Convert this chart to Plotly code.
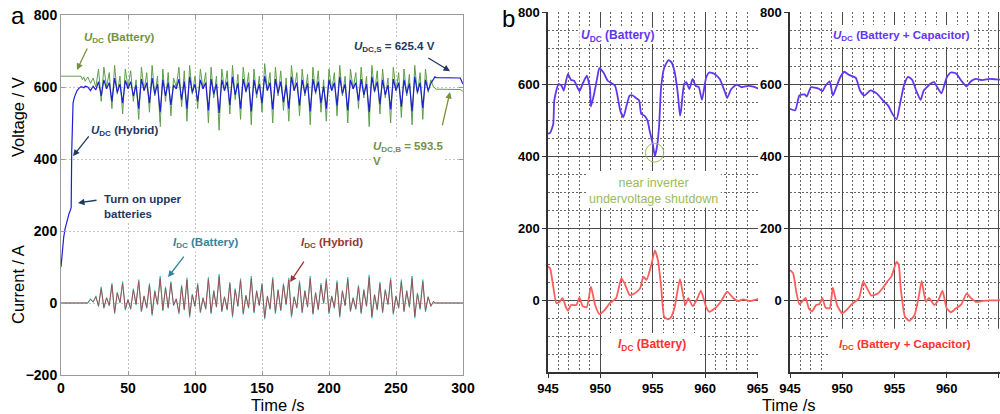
import plotly.graph_objects as go

W, H = 1000, 414

# ---------------- Panel a data ----------------
t_hyb_start = [0, 1, 2, 3, 4, 5, 6, 7, 7.6, 8.0, 8.4, 9, 10, 11, 12, 13, 14, 15, 16, 17, 18, 19]
u_hyb_start = [100, 150, 182, 205, 222, 236, 248, 258, 265, 420, 530, 556, 572, 582, 590, 595, 599, 601, 600, 598, 602, 600]
t_bat_start = [0, 15, 16, 17, 18, 19]
u_bat_start = [630, 630, 620, 628, 616, 624]
t_cur_start = [0, 19]
i_bat_start = [0, 0]
i_hyb_start = [0, 0]

# driving segment, one sample every 2 s from 20 s to 278 s
t_drive = list(range(20, 280, 2))
u_bat_drive = [
    628, 610, 625, 600, 650, 560, 655, 600, 640, 540,
    660, 580, 630, 525, 650, 600, 645, 560, 620, 510,
    655, 590, 640, 530, 660, 575, 630, 490, 650, 560,
    640, 520, 625, 600, 655, 545, 645, 505, 660, 580,
    630, 540, 650, 595, 640, 500, 655, 570, 630, 480,
    650, 590, 645, 525, 660, 565, 635, 510, 655, 585,
    640, 495, 650, 570, 630, 530, 665, 590, 640, 500,
    655, 575, 645, 535, 625, 505, 660, 590, 640, 520,
    650, 575, 635, 495, 655, 580, 645, 530, 620, 505,
    650, 590, 640, 520, 660, 575, 630, 500, 650, 595,
    640, 540, 655, 570, 630, 490, 660, 585, 645, 525,
    650, 570, 625, 500, 655, 590, 640, 515, 650, 575,
    635, 495, 660, 580, 640, 510, 650, 585, 620, 600]
u_hyb_drive = [
    600, 590, 602, 592, 615, 575, 620, 595, 612, 560,
    625, 585, 608, 555, 618, 595, 615, 575, 605, 540,
    622, 590, 612, 555, 625, 580, 608, 530, 620, 575,
    612, 550, 605, 595, 622, 565, 615, 540, 628, 585,
    608, 560, 620, 595, 612, 535, 622, 580, 608, 528,
    620, 590, 615, 550, 628, 578, 610, 540, 622, 588,
    612, 532, 620, 580, 608, 555, 630, 590, 612, 538,
    622, 582, 615, 558, 605, 540, 628, 590, 612, 548,
    620, 582, 610, 532, 622, 585, 615, 555, 602, 540,
    620, 590, 612, 548, 628, 582, 608, 535, 620, 595,
    612, 562, 622, 578, 608, 530, 628, 588, 615, 552,
    620, 578, 605, 538, 622, 590, 612, 545, 620, 582,
    610, 532, 628, 585, 612, 542, 620, 590, 610, 622]
i_bat_drive = [
    0, 12, 2, 20, -10, 45, -15, 15, -8, 55,
    -30, 30, 0, 60, -20, 10, -18, 40, -5, 65,
    -25, 20, -15, 55, -35, 35, -5, 75, -22, 45,
    -15, 60, -8, 12, -30, 50, -20, 70, -40, 25,
    -10, 55, -28, 15, -18, 72, -30, 35, -12, 80,
    -25, 18, -20, 58, -40, 40, -10, 68, -32, 22,
    -15, 75, -28, 35, -8, 55, -45, 20, -18, 72,
    -30, 38, -22, 55, -5, 70, -40, 18, -15, 62,
    -28, 35, -12, 75, -32, 30, -20, 55, -2, 68,
    -30, 20, -15, 62, -40, 35, -8, 72, -25, 15,
    -18, 50, -30, 38, -10, 78, -42, 25, -20, 58,
    -28, 38, -5, 70, -32, 20, -15, 65, -25, 35,
    -12, 75, -42, 28, -18, 65, -25, 18, -10, 5]
i_hyb_drive = [
    0, 10, 3, 17, -8, 40, -12, 14, -6, 50,
    -26, 27, 2, 54, -17, 9, -15, 36, -3, 60,
    -22, 18, -12, 50, -30, 31, -3, 68, -19, 41,
    -12, 55, -6, 11, -26, 45, -17, 64, -35, 22,
    -8, 50, -24, 13, -15, 66, -26, 32, -10, 73,
    -21, 16, -17, 53, -35, 36, -8, 62, -28, 20,
    -12, 68, -24, 32, -6, 50, -40, 18, -15, 66,
    -26, 34, -19, 50, -3, 64, -35, 16, -12, 56,
    -24, 32, -10, 68, -28, 27, -17, 50, 0, 62,
    -26, 18, -12, 56, -35, 32, -6, 66, -21, 13,
    -15, 45, -26, 34, -8, 71, -37, 22, -17, 53,
    -24, 34, -3, 64, -28, 18, -12, 59, -21, 32,
    -10, 68, -37, 25, -15, 59, -21, 16, -8, 4]

t_end = [279, 280, 298, 299.5, 300]
u_hyb_end = [628, 626, 625, 612, 608]
u_bat_end = [596, 594, 593, 589, 588]
i_bat_end = [0, 0, 0, 0, 0]
i_hyb_end = [0, 0, 0, 0, 0]

# ---------------- Panel b data ----------------
b1_u_t = [945.0, 945.2, 945.5, 945.6, 946.0, 946.3, 946.5, 946.9, 947.2, 947.5, 948.0, 948.3, 948.7,
          949.0, 949.1, 949.4, 949.7, 949.9, 950.3, 950.7, 951.4, 951.9, 952.2, 952.5, 952.8, 953.1,
          953.4, 953.7, 953.9, 954.2, 954.5, 954.7, 955.0, 955.2, 955.4, 955.6, 955.8, 956.1, 956.5,
          956.8, 957.1, 957.4, 957.6, 957.7, 958.0, 958.2, 958.5, 958.8, 959.1, 959.4, 959.7, 960.1,
          960.4, 960.9, 961.4, 961.9, 962.1, 962.5, 963.0, 963.5, 964.1, 964.6, 965.2]
b1_u = [462, 464, 489, 554, 600, 595, 582, 628, 611, 609, 580, 600, 623,
        591, 537, 572, 617, 644, 632, 609, 595, 526, 508, 540, 568, 568,
        561, 554, 517, 512, 499, 471, 434, 400, 425, 480, 591, 646, 666,
        660, 632, 572, 512, 526, 600, 605, 586, 614, 595, 591, 556, 618,
        632, 628, 614, 577, 561, 586, 598, 591, 595, 593, 586]
b1_i_t = [945.0, 945.2, 945.5, 945.8, 946.1, 946.4, 946.7, 946.9, 947.2, 947.7, 948.0, 948.3, 948.7,
          949.1, 949.5, 949.9, 950.4, 950.9, 951.5, 952.0, 952.3, 952.8, 953.3, 953.8, 954.1, 954.4,
          954.9, 955.2, 955.5, 955.8, 956.1, 956.5, 956.8, 957.1, 957.6, 958.1, 958.4, 958.8, 959.2,
          959.6, 960.1, 960.4, 961.1, 961.6, 962.1, 962.7, 963.2, 963.6, 964.3, 965.2]
b1_i = [93, 88, 37, -9, -5, 5, -19, -30, -14, -14, 7, -17, -20,
        37, -14, -39, -28, -9, 5, 60, 47, 14, 19, 33, 65, 56,
        102, 138, 110, 37, -47, -54, -45, -19, 58, -14, 5, -17, 0,
        26, -20, -33, -19, 0, 23, 5, -3, 2, -3, 4]
b2_u_t = [945.0, 945.5, 945.9, 946.4, 946.6, 947.0, 947.5, 947.8, 948.1, 948.4, 948.8, 949.1,
          949.4, 949.8, 950.2, 950.6, 951.3, 951.7, 952.1, 952.7, 953.3, 953.9, 954.4, 954.8,
          955.2, 955.5, 955.9, 956.3, 956.7, 957.1, 957.5, 957.8, 958.1, 958.4, 958.8, 959.1,
          959.5, 960.0, 960.4, 960.9, 961.4, 961.9, 962.3, 962.8, 963.4, 964.1, 964.7, 965.2]
b2_u = [531, 527, 568, 571, 565, 591, 589, 586, 580, 595, 607, 568,
        589, 618, 634, 626, 617, 582, 568, 582, 574, 554, 540, 517,
        502, 540, 595, 620, 611, 580, 556, 582, 591, 600, 605, 591,
        574, 618, 632, 629, 609, 593, 607, 614, 611, 614, 613, 612]
b2_i_t = [945.0, 945.3, 945.6, 945.9, 946.3, 946.5, 946.8, 947.1, 947.5, 947.8, 948.1, 948.4, 948.8,
          949.1, 949.5, 950.0, 950.5, 950.9, 951.6, 952.0, 952.3, 952.8, 953.4, 953.9, 954.3, 954.7,
          955.2, 955.4, 955.6, 956.0, 956.4, 956.9, 957.3, 957.6, 958.0, 958.3, 958.8, 959.2, 959.6,
          960.0, 960.4, 960.9, 961.4, 961.9, 962.3, 962.8, 963.4, 964.1, 964.7, 965.2]
b2_i = [83, 74, 23, -12, 0, 6, -23, -32, -14, -12, 5, -21, -23,
        34, -14, -37, -25, -12, 5, 51, 37, 12, 18, 34, 51, 65,
        106, 99, 32, -46, -58, -43, 5, 53, -5, 6, -14, 0, 25,
        -23, -34, -23, -12, 18, 6, -5, -3, -1, -1, 0]

a_xticks = [0, 50, 100, 150, 200, 250, 300]
a_yticks = [-200, 0, 200, 400, 600, 800]
b_xticks = [945, 950, 955, 960, 965]
b_yticks = [0, 200, 400, 600, 800]

# ---------------- styling ----------------
GREEN = "#5e9e4a"
BLUE = "#1e1ed2"
CYAN = "#35c4c4"
DRED = "#b23a3a"
T_OLIVE = "#76923c"
T_NAVY = "#1f3864"
T_TEAL = "#31859c"
T_DRED = "#953735"
B_BLUE = "#6236ee"
B_RED = "#ff5c5c"
B_RED_T = "#ff3030"
B_OLIVE = "#9bbb59"
FONT = "Liberation Sans, Arial, sans-serif"


def fx(P):
    return P / W


def fy(P):
    return 1 - P / H


fig = go.Figure()

fig.add_trace(go.Scatter(x=t_bat_start + t_drive + t_end, y=u_bat_start + u_bat_drive + u_bat_end,
                         mode="lines", line=dict(color=GREEN, width=1), xaxis="x", yaxis="y"))
fig.add_trace(go.Scatter(x=t_hyb_start + t_drive + t_end, y=u_hyb_start + u_hyb_drive + u_hyb_end,
                         mode="lines", line=dict(color=BLUE, width=1.2), xaxis="x", yaxis="y"))
fig.add_trace(go.Scatter(x=t_cur_start + t_drive + t_end, y=i_bat_start + i_bat_drive + i_bat_end,
                         mode="lines", line=dict(color=CYAN, width=1), xaxis="x", yaxis="y"))
fig.add_trace(go.Scatter(x=t_cur_start + t_drive + t_end, y=i_hyb_start + i_hyb_drive + i_hyb_end,
                         mode="lines", line=dict(color=DRED, width=1), opacity=0.85, xaxis="x", yaxis="y"))

for xs, ys, col, xa, ya in [
    (b1_u_t, b1_u, B_BLUE, "x2", "y2"),
    (b1_i_t, b1_i, B_RED, "x2", "y2"),
    (b2_u_t, b2_u, B_BLUE, "x3", "y3"),
    (b2_i_t, b2_i, B_RED, "x3", "y3"),
]:
    fig.add_trace(go.Scatter(x=xs, y=ys, mode="lines",
                             line=dict(color=col, width=1.8, shape="spline", smoothing=0.5),
                             xaxis=xa, yaxis=ya))

tickfont_a = dict(family=FONT, size=14, color="black", weight="bold")
tickfont_b = dict(family=FONT, size=13, color="black", weight="bold")

axis_a_common = dict(showgrid=True, gridcolor="#c4c4c4", griddash="2px,2px", gridwidth=1,
                     showline=True, linecolor="#9a9a9a", linewidth=1, mirror="ticks",
                     ticks="inside", ticklen=4, tickcolor="#9a9a9a", zeroline=False,
                     tickfont=tickfont_a, automargin=False)

B_MINOR_DASH = "1.5px,2.5px"
axis_b_x = dict(tickvals=b_xticks, showgrid=True, gridcolor="#4a4a4a", gridwidth=1.2,
                minor=dict(dtick=1, showgrid=True, gridcolor="#666", griddash=B_MINOR_DASH, gridwidth=1),
                showline=True, linecolor="#333", linewidth=1.5, ticks="outside", ticklen=4, tickcolor="#333",
                zeroline=False, tickfont=tickfont_b, automargin=False)
axis_b_y = dict(range=[-200, 800], tickvals=b_yticks, showgrid=True, gridcolor="#4a4a4a", gridwidth=1.2,
                minor=dict(dtick=50, tick0=0, showgrid=True, gridcolor="#666", griddash=B_MINOR_DASH, gridwidth=1),
                showline=True, linecolor="#333", linewidth=1.5, ticks="outside", ticklen=4, tickcolor="#333",
                zeroline=False, tickfont=tickfont_b, automargin=False)

fig.update_layout(
    width=W, height=H, margin=dict(l=0, r=0, t=0, b=0, autoexpand=False),
    paper_bgcolor="white", plot_bgcolor="white", showlegend=False,
    xaxis=dict(domain=[fx(61), fx(463)], range=[0, 300], tickvals=a_xticks, anchor="y", **axis_a_common),
    yaxis=dict(domain=[fy(375), fy(15)], range=[-200, 800], tickvals=a_yticks, anchor="x", **axis_a_common),
    xaxis2=dict(domain=[fx(548), fx(758)], range=[945, 965.05], anchor="y2", **axis_b_x),
    yaxis2=dict(domain=[fy(372), fy(12)], anchor="x2", **axis_b_y),
    xaxis3=dict(domain=[fx(790), 1.0], range=[945, 965.1], anchor="y3", **axis_b_x),
    yaxis3=dict(domain=[fy(372), fy(12)], anchor="x3", **axis_b_y),
)

for xr, yr, x0, x1, y0, y1 in [
    ("x2", "y2", 948.0, 955.3, 711, 756),
    ("x2", "y2", 948.8, 961.5, 256, 358),
    ("x2", "y2", 950.2, 959.5, -199, -92),
    ("x3", "y3", 949.1, 962.6, 703, 764),
    ("x3", "y3", 948.8, 966, -199, -80),
]:
    fig.add_shape(type="rect", xref=xr, yref=yr, x0=x0, x1=x1, y0=y0, y1=y1,
                  fillcolor="white", line=dict(width=0), layer="between")

fig.add_shape(type="circle", xref="x2", yref="y2", x0=954.3, x1=956.05, y0=383, y1=435,
              line=dict(color=B_OLIVE, width=1))

ann = []


def txt(x, y, text, color, size=11.5, bold=True, xref="x", yref="y", xanchor="center", align="center", bg=None):
    d = dict(x=x, y=y, xref=xref, yref=yref, text=text, showarrow=False, xanchor=xanchor, align=align,
             font=dict(family=FONT, size=size, color=color, weight="bold" if bold else "normal"))
    if bg:
        d["bgcolor"] = bg
        d["borderpad"] = 1
    ann.append(d)


def arrow(x, y, ax, ay, color):
    ann.append(dict(x=x, y=y, ax=ax, ay=ay, xref="x", yref="y", axref="x", ayref="y", text="",
                    showarrow=True, arrowhead=2, arrowsize=1, arrowwidth=1.3, arrowcolor=color))


txt(44, 736, "<i>U</i><sub>DC</sub> (Battery)", T_OLIVE, bg="white")
arrow(11.9, 647, 20.1, 711, T_OLIVE)
txt(47.4, 478, "<i>U</i><sub>DC</sub> (Hybrid)", T_NAVY, bg="white")
arrow(9.0, 408, 21.6, 467, T_NAVY)
txt(30.6, 267, "Turn on upper<br>batteries", T_NAVY, xanchor="left", align="left", bg="white")
arrow(12.7, 278, 27.6, 286, T_NAVY)
txt(249, 711, "<i>U</i><sub>DC,S</sub> = 625.4 V", T_NAVY, bg="white")
arrow(290.3, 644, 273, 683, T_NAVY)
txt(231, 414, "<i>U</i><sub>DC,B</sub> = 593.5<br>V", T_OLIVE, xanchor="left", align="left", bg="white")
arrow(290.3, 586, 284.3, 489, T_OLIVE)
txt(107.5, 167, "<i>I</i><sub>DC</sub> (Battery)", T_TEAL, bg="white")
arrow(79.9, 72, 92.5, 133, T_TEAL)
txt(202, 167, "<i>I</i><sub>DC</sub> (Hybrid)", T_DRED, bg="white")
arrow(171, 58, 182, 119, T_DRED)

txt(951.6, 733, "<i>U</i><sub>DC</sub> (Battery)", B_BLUE, size=12, xref="x2", yref="y2")
txt(955.1, 304, "near inverter<br>undervoltage shutdown", B_OLIVE, size=12.5, bold=False, xref="x2", yref="y2")
txt(954.9, -125, "<i>I</i><sub>DC</sub> (Battery)", B_RED_T, size=12, xref="x2", yref="y2")
txt(955.7, 733, "<i>U</i><sub>DC</sub> (Battery + Capacitor)", B_BLUE, size=11.5, xref="x3", yref="y3")
txt(956.0, -125, "<i>I</i><sub>DC</sub> (Battery + Capacitor)", B_RED_T, size=11.5, xref="x3", yref="y3")


def ptxt(xpx, ypx, text, size, angle=0):
    ann.append(dict(x=fx(xpx), y=fy(ypx), xref="paper", yref="paper", text=text, showarrow=False,
                    textangle=angle, xanchor="center", yanchor="middle",
                    font=dict(family=FONT, size=size, color="black")))


ptxt(18, 117, "Voltage / V", 16.5, -90)
ptxt(18, 285, "Current / A", 16.5, -90)
ptxt(277, 405, "Time /s", 16.5)
ptxt(788, 405, "Time /s", 16.5)
ptxt(18, 16, "a", 24)
ptxt(508, 19, "b", 24)

fig.update_layout(annotations=ann)
fig.write_html("out.html")
